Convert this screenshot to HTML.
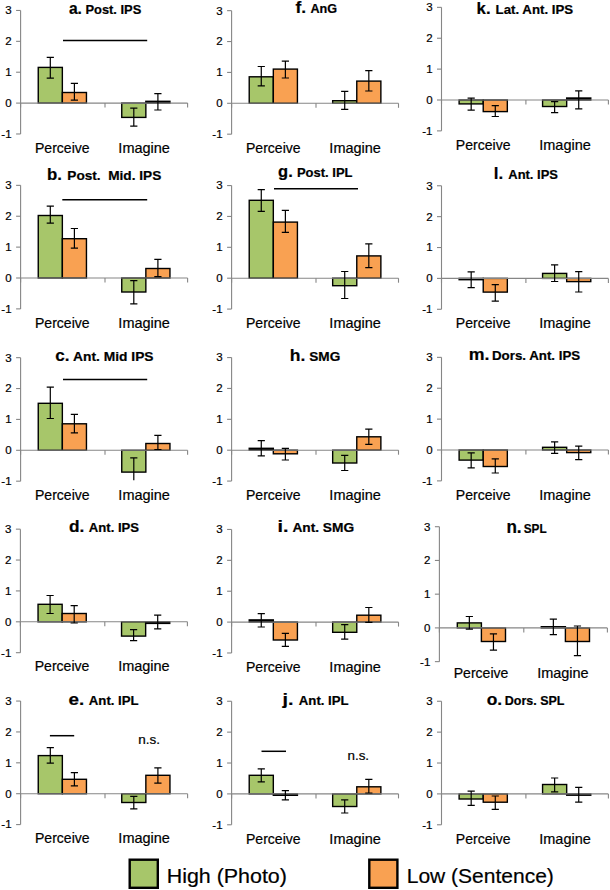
<!DOCTYPE html>
<html><head><meta charset="utf-8"><style>
html,body{margin:0;padding:0;background:#fff;width:610px;height:890px;overflow:hidden}
svg{display:block}
text{font-family:"Liberation Sans",sans-serif;fill:#000;stroke:#000;stroke-width:0.2px}
</style></head><body>
<svg width="610" height="890" viewBox="0 0 610 890">
<rect x="38.25" y="67.40" width="24.10" height="35.70" fill="#A7C66A" stroke="#000" stroke-width="1.4"/>
<rect x="62.35" y="92.50" width="24.10" height="10.60" fill="#F9A152" stroke="#000" stroke-width="1.4"/>
<rect x="121.75" y="103.10" width="24.10" height="14.30" fill="#A7C66A" stroke="#000" stroke-width="1.4"/>
<rect x="145.85" y="101.30" width="24.10" height="1.80" fill="#000" stroke="#000" stroke-width="1.4"/>
<rect x="38.25" y="215.50" width="24.10" height="62.50" fill="#A7C66A" stroke="#000" stroke-width="1.4"/>
<rect x="62.35" y="238.70" width="24.10" height="39.30" fill="#F9A152" stroke="#000" stroke-width="1.4"/>
<rect x="121.75" y="278.00" width="24.10" height="14.00" fill="#A7C66A" stroke="#000" stroke-width="1.4"/>
<rect x="145.85" y="268.50" width="24.10" height="9.50" fill="#F9A152" stroke="#000" stroke-width="1.4"/>
<rect x="38.25" y="403.30" width="24.10" height="47.00" fill="#A7C66A" stroke="#000" stroke-width="1.4"/>
<rect x="62.35" y="423.80" width="24.10" height="26.50" fill="#F9A152" stroke="#000" stroke-width="1.4"/>
<rect x="121.75" y="450.30" width="24.10" height="21.80" fill="#A7C66A" stroke="#000" stroke-width="1.4"/>
<rect x="145.85" y="443.50" width="24.10" height="6.80" fill="#F9A152" stroke="#000" stroke-width="1.4"/>
<rect x="38.05" y="604.30" width="24.10" height="17.50" fill="#A7C66A" stroke="#000" stroke-width="1.4"/>
<rect x="62.15" y="613.50" width="24.10" height="8.30" fill="#F9A152" stroke="#000" stroke-width="1.4"/>
<rect x="121.55" y="621.80" width="24.10" height="14.30" fill="#A7C66A" stroke="#000" stroke-width="1.4"/>
<rect x="145.65" y="621.80" width="24.10" height="1.60" fill="#000" stroke="#000" stroke-width="1.4"/>
<rect x="38.25" y="755.60" width="24.10" height="38.10" fill="#A7C66A" stroke="#000" stroke-width="1.4"/>
<rect x="62.35" y="779.30" width="24.10" height="14.40" fill="#F9A152" stroke="#000" stroke-width="1.4"/>
<rect x="121.75" y="793.70" width="24.10" height="8.80" fill="#A7C66A" stroke="#000" stroke-width="1.4"/>
<rect x="145.85" y="775.30" width="24.10" height="18.40" fill="#F9A152" stroke="#000" stroke-width="1.4"/>
<rect x="249.22" y="76.80" width="24.10" height="26.50" fill="#A7C66A" stroke="#000" stroke-width="1.4"/>
<rect x="273.32" y="69.10" width="24.10" height="34.20" fill="#F9A152" stroke="#000" stroke-width="1.4"/>
<rect x="332.67" y="100.70" width="24.10" height="2.60" fill="#A7C66A" stroke="#000" stroke-width="1.4"/>
<rect x="356.77" y="81.10" width="24.10" height="22.20" fill="#F9A152" stroke="#000" stroke-width="1.4"/>
<rect x="249.22" y="200.30" width="24.10" height="77.90" fill="#A7C66A" stroke="#000" stroke-width="1.4"/>
<rect x="273.32" y="222.10" width="24.10" height="56.10" fill="#F9A152" stroke="#000" stroke-width="1.4"/>
<rect x="332.67" y="278.20" width="24.10" height="7.50" fill="#A7C66A" stroke="#000" stroke-width="1.4"/>
<rect x="356.77" y="255.90" width="24.10" height="22.30" fill="#F9A152" stroke="#000" stroke-width="1.4"/>
<rect x="249.22" y="448.30" width="24.10" height="1.90" fill="#000" stroke="#000" stroke-width="1.4"/>
<rect x="273.32" y="450.20" width="24.10" height="3.60" fill="#F9A152" stroke="#000" stroke-width="1.4"/>
<rect x="332.67" y="450.20" width="24.10" height="12.80" fill="#A7C66A" stroke="#000" stroke-width="1.4"/>
<rect x="356.77" y="436.80" width="24.10" height="13.40" fill="#F9A152" stroke="#000" stroke-width="1.4"/>
<rect x="249.22" y="619.90" width="24.10" height="2.20" fill="#000" stroke="#000" stroke-width="1.4"/>
<rect x="273.32" y="622.10" width="24.10" height="17.90" fill="#F9A152" stroke="#000" stroke-width="1.4"/>
<rect x="332.67" y="622.10" width="24.10" height="10.20" fill="#A7C66A" stroke="#000" stroke-width="1.4"/>
<rect x="356.77" y="615.20" width="24.10" height="6.90" fill="#F9A152" stroke="#000" stroke-width="1.4"/>
<rect x="249.22" y="775.30" width="24.10" height="18.60" fill="#A7C66A" stroke="#000" stroke-width="1.4"/>
<rect x="273.32" y="793.90" width="24.10" height="1.40" fill="#000" stroke="#000" stroke-width="1.4"/>
<rect x="332.67" y="793.90" width="24.10" height="12.60" fill="#A7C66A" stroke="#000" stroke-width="1.4"/>
<rect x="356.77" y="786.80" width="24.10" height="7.10" fill="#F9A152" stroke="#000" stroke-width="1.4"/>
<rect x="459.12" y="100.00" width="24.10" height="3.90" fill="#A7C66A" stroke="#000" stroke-width="1.4"/>
<rect x="483.23" y="100.00" width="24.10" height="11.60" fill="#F9A152" stroke="#000" stroke-width="1.4"/>
<rect x="542.58" y="100.00" width="24.10" height="6.50" fill="#A7C66A" stroke="#000" stroke-width="1.4"/>
<rect x="566.68" y="98.00" width="24.10" height="2.00" fill="#000" stroke="#000" stroke-width="1.4"/>
<rect x="459.12" y="278.40" width="24.10" height="1.30" fill="#000" stroke="#000" stroke-width="1.4"/>
<rect x="483.23" y="278.40" width="24.10" height="13.70" fill="#F9A152" stroke="#000" stroke-width="1.4"/>
<rect x="542.58" y="273.40" width="24.10" height="5.00" fill="#A7C66A" stroke="#000" stroke-width="1.4"/>
<rect x="566.68" y="278.40" width="24.10" height="3.20" fill="#F9A152" stroke="#000" stroke-width="1.4"/>
<rect x="459.12" y="450.00" width="24.10" height="10.10" fill="#A7C66A" stroke="#000" stroke-width="1.4"/>
<rect x="483.23" y="450.00" width="24.10" height="16.50" fill="#F9A152" stroke="#000" stroke-width="1.4"/>
<rect x="542.58" y="447.30" width="24.10" height="2.70" fill="#A7C66A" stroke="#000" stroke-width="1.4"/>
<rect x="566.68" y="450.00" width="24.10" height="2.60" fill="#F9A152" stroke="#000" stroke-width="1.4"/>
<rect x="457.30" y="622.90" width="24.10" height="5.00" fill="#A7C66A" stroke="#000" stroke-width="1.4"/>
<rect x="481.40" y="627.90" width="24.10" height="13.60" fill="#F9A152" stroke="#000" stroke-width="1.4"/>
<rect x="541.30" y="626.70" width="24.10" height="1.20" fill="#000" stroke="#000" stroke-width="1.4"/>
<rect x="565.40" y="627.90" width="24.10" height="13.60" fill="#F9A152" stroke="#000" stroke-width="1.4"/>
<rect x="459.12" y="793.90" width="24.10" height="5.10" fill="#A7C66A" stroke="#000" stroke-width="1.4"/>
<rect x="483.23" y="793.90" width="24.10" height="8.30" fill="#F9A152" stroke="#000" stroke-width="1.4"/>
<rect x="542.58" y="784.50" width="24.10" height="9.40" fill="#A7C66A" stroke="#000" stroke-width="1.4"/>
<rect x="566.68" y="793.90" width="24.10" height="1.30" fill="#000" stroke="#000" stroke-width="1.4"/>
<path d="M20.60 10.46 V133.98" stroke="#868686" stroke-width="1.1" fill="none"/>
<path d="M16.10 133.98 H20.60" stroke="#868686" stroke-width="1.1"/>
<path d="M16.10 103.10 H20.60" stroke="#868686" stroke-width="1.1"/>
<path d="M16.10 72.22 H20.60" stroke="#868686" stroke-width="1.1"/>
<path d="M16.10 41.34 H20.60" stroke="#868686" stroke-width="1.1"/>
<path d="M16.10 10.46 H20.60" stroke="#868686" stroke-width="1.1"/>
<path d="M20.60 103.10 H187.60" stroke="#868686" stroke-width="1.1"/>
<path d="M20.60 103.10 V107.60" stroke="#868686" stroke-width="1.1"/>
<path d="M105.00 103.10 V107.60" stroke="#868686" stroke-width="1.1"/>
<path d="M187.60 103.10 V107.60" stroke="#868686" stroke-width="1.1"/>
<path d="M20.60 185.36 V308.88" stroke="#868686" stroke-width="1.1" fill="none"/>
<path d="M16.10 308.88 H20.60" stroke="#868686" stroke-width="1.1"/>
<path d="M16.10 278.00 H20.60" stroke="#868686" stroke-width="1.1"/>
<path d="M16.10 247.12 H20.60" stroke="#868686" stroke-width="1.1"/>
<path d="M16.10 216.24 H20.60" stroke="#868686" stroke-width="1.1"/>
<path d="M16.10 185.36 H20.60" stroke="#868686" stroke-width="1.1"/>
<path d="M20.60 278.00 H187.60" stroke="#868686" stroke-width="1.1"/>
<path d="M20.60 278.00 V282.50" stroke="#868686" stroke-width="1.1"/>
<path d="M105.00 278.00 V282.50" stroke="#868686" stroke-width="1.1"/>
<path d="M187.60 278.00 V282.50" stroke="#868686" stroke-width="1.1"/>
<path d="M20.60 357.66 V481.18" stroke="#868686" stroke-width="1.1" fill="none"/>
<path d="M16.10 481.18 H20.60" stroke="#868686" stroke-width="1.1"/>
<path d="M16.10 450.30 H20.60" stroke="#868686" stroke-width="1.1"/>
<path d="M16.10 419.42 H20.60" stroke="#868686" stroke-width="1.1"/>
<path d="M16.10 388.54 H20.60" stroke="#868686" stroke-width="1.1"/>
<path d="M16.10 357.66 H20.60" stroke="#868686" stroke-width="1.1"/>
<path d="M20.60 450.30 H187.60" stroke="#868686" stroke-width="1.1"/>
<path d="M20.60 450.30 V454.80" stroke="#868686" stroke-width="1.1"/>
<path d="M105.00 450.30 V454.80" stroke="#868686" stroke-width="1.1"/>
<path d="M187.60 450.30 V454.80" stroke="#868686" stroke-width="1.1"/>
<path d="M20.40 529.16 V652.68" stroke="#868686" stroke-width="1.1" fill="none"/>
<path d="M15.90 652.68 H20.40" stroke="#868686" stroke-width="1.1"/>
<path d="M15.90 621.80 H20.40" stroke="#868686" stroke-width="1.1"/>
<path d="M15.90 590.92 H20.40" stroke="#868686" stroke-width="1.1"/>
<path d="M15.90 560.04 H20.40" stroke="#868686" stroke-width="1.1"/>
<path d="M15.90 529.16 H20.40" stroke="#868686" stroke-width="1.1"/>
<path d="M20.40 621.80 H187.40" stroke="#868686" stroke-width="1.1"/>
<path d="M20.40 621.80 V626.30" stroke="#868686" stroke-width="1.1"/>
<path d="M104.80 621.80 V626.30" stroke="#868686" stroke-width="1.1"/>
<path d="M187.40 621.80 V626.30" stroke="#868686" stroke-width="1.1"/>
<path d="M20.60 701.06 V824.58" stroke="#868686" stroke-width="1.1" fill="none"/>
<path d="M16.10 824.58 H20.60" stroke="#868686" stroke-width="1.1"/>
<path d="M16.10 793.70 H20.60" stroke="#868686" stroke-width="1.1"/>
<path d="M16.10 762.82 H20.60" stroke="#868686" stroke-width="1.1"/>
<path d="M16.10 731.94 H20.60" stroke="#868686" stroke-width="1.1"/>
<path d="M16.10 701.06 H20.60" stroke="#868686" stroke-width="1.1"/>
<path d="M20.60 793.70 H187.60" stroke="#868686" stroke-width="1.1"/>
<path d="M20.60 793.70 V798.20" stroke="#868686" stroke-width="1.1"/>
<path d="M105.00 793.70 V798.20" stroke="#868686" stroke-width="1.1"/>
<path d="M187.60 793.70 V798.20" stroke="#868686" stroke-width="1.1"/>
<path d="M231.60 10.66 V134.18" stroke="#868686" stroke-width="1.1" fill="none"/>
<path d="M227.10 134.18 H231.60" stroke="#868686" stroke-width="1.1"/>
<path d="M227.10 103.30 H231.60" stroke="#868686" stroke-width="1.1"/>
<path d="M227.10 72.42 H231.60" stroke="#868686" stroke-width="1.1"/>
<path d="M227.10 41.54 H231.60" stroke="#868686" stroke-width="1.1"/>
<path d="M227.10 10.66 H231.60" stroke="#868686" stroke-width="1.1"/>
<path d="M231.60 103.30 H398.50" stroke="#868686" stroke-width="1.1"/>
<path d="M231.60 103.30 V107.80" stroke="#868686" stroke-width="1.1"/>
<path d="M316.00 103.30 V107.80" stroke="#868686" stroke-width="1.1"/>
<path d="M398.50 103.30 V107.80" stroke="#868686" stroke-width="1.1"/>
<path d="M231.60 185.56 V309.08" stroke="#868686" stroke-width="1.1" fill="none"/>
<path d="M227.10 309.08 H231.60" stroke="#868686" stroke-width="1.1"/>
<path d="M227.10 278.20 H231.60" stroke="#868686" stroke-width="1.1"/>
<path d="M227.10 247.32 H231.60" stroke="#868686" stroke-width="1.1"/>
<path d="M227.10 216.44 H231.60" stroke="#868686" stroke-width="1.1"/>
<path d="M227.10 185.56 H231.60" stroke="#868686" stroke-width="1.1"/>
<path d="M231.60 278.20 H398.50" stroke="#868686" stroke-width="1.1"/>
<path d="M231.60 278.20 V282.70" stroke="#868686" stroke-width="1.1"/>
<path d="M316.00 278.20 V282.70" stroke="#868686" stroke-width="1.1"/>
<path d="M398.50 278.20 V282.70" stroke="#868686" stroke-width="1.1"/>
<path d="M231.60 357.56 V481.08" stroke="#868686" stroke-width="1.1" fill="none"/>
<path d="M227.10 481.08 H231.60" stroke="#868686" stroke-width="1.1"/>
<path d="M227.10 450.20 H231.60" stroke="#868686" stroke-width="1.1"/>
<path d="M227.10 419.32 H231.60" stroke="#868686" stroke-width="1.1"/>
<path d="M227.10 388.44 H231.60" stroke="#868686" stroke-width="1.1"/>
<path d="M227.10 357.56 H231.60" stroke="#868686" stroke-width="1.1"/>
<path d="M231.60 450.20 H398.50" stroke="#868686" stroke-width="1.1"/>
<path d="M231.60 450.20 V454.70" stroke="#868686" stroke-width="1.1"/>
<path d="M316.00 450.20 V454.70" stroke="#868686" stroke-width="1.1"/>
<path d="M398.50 450.20 V454.70" stroke="#868686" stroke-width="1.1"/>
<path d="M231.60 529.46 V652.98" stroke="#868686" stroke-width="1.1" fill="none"/>
<path d="M227.10 652.98 H231.60" stroke="#868686" stroke-width="1.1"/>
<path d="M227.10 622.10 H231.60" stroke="#868686" stroke-width="1.1"/>
<path d="M227.10 591.22 H231.60" stroke="#868686" stroke-width="1.1"/>
<path d="M227.10 560.34 H231.60" stroke="#868686" stroke-width="1.1"/>
<path d="M227.10 529.46 H231.60" stroke="#868686" stroke-width="1.1"/>
<path d="M231.60 622.10 H398.50" stroke="#868686" stroke-width="1.1"/>
<path d="M231.60 622.10 V626.60" stroke="#868686" stroke-width="1.1"/>
<path d="M316.00 622.10 V626.60" stroke="#868686" stroke-width="1.1"/>
<path d="M398.50 622.10 V626.60" stroke="#868686" stroke-width="1.1"/>
<path d="M231.60 701.26 V824.78" stroke="#868686" stroke-width="1.1" fill="none"/>
<path d="M227.10 824.78 H231.60" stroke="#868686" stroke-width="1.1"/>
<path d="M227.10 793.90 H231.60" stroke="#868686" stroke-width="1.1"/>
<path d="M227.10 763.02 H231.60" stroke="#868686" stroke-width="1.1"/>
<path d="M227.10 732.14 H231.60" stroke="#868686" stroke-width="1.1"/>
<path d="M227.10 701.26 H231.60" stroke="#868686" stroke-width="1.1"/>
<path d="M231.60 793.90 H398.50" stroke="#868686" stroke-width="1.1"/>
<path d="M231.60 793.90 V798.40" stroke="#868686" stroke-width="1.1"/>
<path d="M316.00 793.90 V798.40" stroke="#868686" stroke-width="1.1"/>
<path d="M398.50 793.90 V798.40" stroke="#868686" stroke-width="1.1"/>
<path d="M441.50 7.36 V130.88" stroke="#868686" stroke-width="1.1" fill="none"/>
<path d="M437.00 130.88 H441.50" stroke="#868686" stroke-width="1.1"/>
<path d="M437.00 100.00 H441.50" stroke="#868686" stroke-width="1.1"/>
<path d="M437.00 69.12 H441.50" stroke="#868686" stroke-width="1.1"/>
<path d="M437.00 38.24 H441.50" stroke="#868686" stroke-width="1.1"/>
<path d="M437.00 7.36 H441.50" stroke="#868686" stroke-width="1.1"/>
<path d="M441.50 100.00 H608.40" stroke="#868686" stroke-width="1.1"/>
<path d="M441.50 100.00 V104.50" stroke="#868686" stroke-width="1.1"/>
<path d="M525.90 100.00 V104.50" stroke="#868686" stroke-width="1.1"/>
<path d="M608.40 100.00 V104.50" stroke="#868686" stroke-width="1.1"/>
<path d="M441.50 185.76 V309.28" stroke="#868686" stroke-width="1.1" fill="none"/>
<path d="M437.00 309.28 H441.50" stroke="#868686" stroke-width="1.1"/>
<path d="M437.00 278.40 H441.50" stroke="#868686" stroke-width="1.1"/>
<path d="M437.00 247.52 H441.50" stroke="#868686" stroke-width="1.1"/>
<path d="M437.00 216.64 H441.50" stroke="#868686" stroke-width="1.1"/>
<path d="M437.00 185.76 H441.50" stroke="#868686" stroke-width="1.1"/>
<path d="M441.50 278.40 H608.40" stroke="#868686" stroke-width="1.1"/>
<path d="M441.50 278.40 V282.90" stroke="#868686" stroke-width="1.1"/>
<path d="M525.90 278.40 V282.90" stroke="#868686" stroke-width="1.1"/>
<path d="M608.40 278.40 V282.90" stroke="#868686" stroke-width="1.1"/>
<path d="M441.50 357.36 V480.88" stroke="#868686" stroke-width="1.1" fill="none"/>
<path d="M437.00 480.88 H441.50" stroke="#868686" stroke-width="1.1"/>
<path d="M437.00 450.00 H441.50" stroke="#868686" stroke-width="1.1"/>
<path d="M437.00 419.12 H441.50" stroke="#868686" stroke-width="1.1"/>
<path d="M437.00 388.24 H441.50" stroke="#868686" stroke-width="1.1"/>
<path d="M437.00 357.36 H441.50" stroke="#868686" stroke-width="1.1"/>
<path d="M441.50 450.00 H608.40" stroke="#868686" stroke-width="1.1"/>
<path d="M441.50 450.00 V454.50" stroke="#868686" stroke-width="1.1"/>
<path d="M525.90 450.00 V454.50" stroke="#868686" stroke-width="1.1"/>
<path d="M608.40 450.00 V454.50" stroke="#868686" stroke-width="1.1"/>
<path d="M439.40 526.71 V661.63" stroke="#868686" stroke-width="1.1" fill="none"/>
<path d="M434.90 661.63 H439.40" stroke="#868686" stroke-width="1.1"/>
<path d="M434.90 627.90 H439.40" stroke="#868686" stroke-width="1.1"/>
<path d="M434.90 594.17 H439.40" stroke="#868686" stroke-width="1.1"/>
<path d="M434.90 560.44 H439.40" stroke="#868686" stroke-width="1.1"/>
<path d="M434.90 526.71 H439.40" stroke="#868686" stroke-width="1.1"/>
<path d="M439.40 627.90 H607.40" stroke="#868686" stroke-width="1.1"/>
<path d="M439.40 627.90 V632.40" stroke="#868686" stroke-width="1.1"/>
<path d="M523.80 627.90 V632.40" stroke="#868686" stroke-width="1.1"/>
<path d="M607.40 627.90 V632.40" stroke="#868686" stroke-width="1.1"/>
<path d="M441.50 701.26 V824.78" stroke="#868686" stroke-width="1.1" fill="none"/>
<path d="M437.00 824.78 H441.50" stroke="#868686" stroke-width="1.1"/>
<path d="M437.00 793.90 H441.50" stroke="#868686" stroke-width="1.1"/>
<path d="M437.00 763.02 H441.50" stroke="#868686" stroke-width="1.1"/>
<path d="M437.00 732.14 H441.50" stroke="#868686" stroke-width="1.1"/>
<path d="M437.00 701.26 H441.50" stroke="#868686" stroke-width="1.1"/>
<path d="M441.50 793.90 H608.40" stroke="#868686" stroke-width="1.1"/>
<path d="M441.50 793.90 V798.40" stroke="#868686" stroke-width="1.1"/>
<path d="M525.90 793.90 V798.40" stroke="#868686" stroke-width="1.1"/>
<path d="M608.40 793.90 V798.40" stroke="#868686" stroke-width="1.1"/>
<path d="M50.30 57.40 V78.20 M46.70 57.40 H53.90 M46.70 78.20 H53.90" stroke="#000" stroke-width="1.2" fill="none"/>
<path d="M74.40 83.40 V100.20 M70.80 83.40 H78.00 M70.80 100.20 H78.00" stroke="#000" stroke-width="1.2" fill="none"/>
<path d="M133.80 108.20 V126.20 M130.20 108.20 H137.40 M130.20 126.20 H137.40" stroke="#000" stroke-width="1.2" fill="none"/>
<path d="M157.90 93.60 V110.00 M154.30 93.60 H161.50 M154.30 110.00 H161.50" stroke="#000" stroke-width="1.2" fill="none"/>
<text x="1.30" y="137.88" font-size="11.5">-1</text>
<text x="5.30" y="107.00" font-size="11.5">0</text>
<text x="5.30" y="76.12" font-size="11.5">1</text>
<text x="5.30" y="45.24" font-size="11.5">2</text>
<text x="5.30" y="14.36" font-size="11.5">3</text>
<text xml:space="preserve" transform="translate(34.95 152.70) scale(1.0038 1)" font-weight="normal" font-size="14">Perceive</text>
<text xml:space="preserve" transform="translate(118.36 152.70) scale(1.0354 1)" font-weight="normal" font-size="14">Imagine</text>
<path d="M63.00 40.45 H147.20" stroke="#000" stroke-width="1.5"/>
<path d="M50.30 206.20 V223.20 M46.70 206.20 H53.90 M46.70 223.20 H53.90" stroke="#000" stroke-width="1.2" fill="none"/>
<path d="M74.40 228.50 V248.20 M70.80 228.50 H78.00 M70.80 248.20 H78.00" stroke="#000" stroke-width="1.2" fill="none"/>
<path d="M133.80 280.70 V303.90 M130.20 280.70 H137.40 M130.20 303.90 H137.40" stroke="#000" stroke-width="1.2" fill="none"/>
<path d="M157.90 259.30 V276.60 M154.30 259.30 H161.50 M154.30 276.60 H161.50" stroke="#000" stroke-width="1.2" fill="none"/>
<text x="1.30" y="312.78" font-size="11.5">-1</text>
<text x="5.30" y="281.90" font-size="11.5">0</text>
<text x="5.30" y="251.02" font-size="11.5">1</text>
<text x="5.30" y="220.14" font-size="11.5">2</text>
<text x="5.30" y="189.26" font-size="11.5">3</text>
<text xml:space="preserve" transform="translate(34.95 327.60) scale(1.0038 1)" font-weight="normal" font-size="14">Perceive</text>
<text xml:space="preserve" transform="translate(118.36 327.60) scale(1.0354 1)" font-weight="normal" font-size="14">Imagine</text>
<path d="M62.30 199.80 H147.20" stroke="#000" stroke-width="1.5"/>
<path d="M50.30 387.20 V418.50 M46.70 387.20 H53.90 M46.70 418.50 H53.90" stroke="#000" stroke-width="1.2" fill="none"/>
<path d="M74.40 414.30 V432.90 M70.80 414.30 H78.00 M70.80 432.90 H78.00" stroke="#000" stroke-width="1.2" fill="none"/>
<path d="M133.80 457.80 V480.20 M130.20 457.80 H137.40" stroke="#000" stroke-width="1.2" fill="none"/>
<path d="M157.90 435.30 V449.50 M154.30 435.30 H161.50 M154.30 449.50 H161.50" stroke="#000" stroke-width="1.2" fill="none"/>
<text x="1.30" y="485.08" font-size="11.5">-1</text>
<text x="5.30" y="454.20" font-size="11.5">0</text>
<text x="5.30" y="423.32" font-size="11.5">1</text>
<text x="5.30" y="392.44" font-size="11.5">2</text>
<text x="5.30" y="361.56" font-size="11.5">3</text>
<text xml:space="preserve" transform="translate(34.95 499.90) scale(1.0038 1)" font-weight="normal" font-size="14">Perceive</text>
<text xml:space="preserve" transform="translate(118.36 499.90) scale(1.0354 1)" font-weight="normal" font-size="14">Imagine</text>
<path d="M63.00 379.50 H147.20" stroke="#000" stroke-width="1.5"/>
<path d="M50.10 595.50 V613.50 M46.50 595.50 H53.70 M46.50 613.50 H53.70" stroke="#000" stroke-width="1.2" fill="none"/>
<path d="M74.20 605.70 V623.00 M70.60 605.70 H77.80 M70.60 623.00 H77.80" stroke="#000" stroke-width="1.2" fill="none"/>
<path d="M133.60 629.60 V640.70 M130.00 629.60 H137.20 M130.00 640.70 H137.20" stroke="#000" stroke-width="1.2" fill="none"/>
<path d="M157.70 615.20 V628.90 M154.10 615.20 H161.30 M154.10 628.90 H161.30" stroke="#000" stroke-width="1.2" fill="none"/>
<text x="1.10" y="656.58" font-size="11.5">-1</text>
<text x="5.10" y="625.70" font-size="11.5">0</text>
<text x="5.10" y="594.82" font-size="11.5">1</text>
<text x="5.10" y="563.94" font-size="11.5">2</text>
<text x="5.10" y="533.06" font-size="11.5">3</text>
<text xml:space="preserve" transform="translate(34.75 671.40) scale(1.0038 1)" font-weight="normal" font-size="14">Perceive</text>
<text xml:space="preserve" transform="translate(118.16 671.40) scale(1.0354 1)" font-weight="normal" font-size="14">Imagine</text>
<path d="M50.30 747.70 V763.20 M46.70 747.70 H53.90 M46.70 763.20 H53.90" stroke="#000" stroke-width="1.2" fill="none"/>
<path d="M74.40 772.70 V785.80 M70.80 772.70 H78.00 M70.80 785.80 H78.00" stroke="#000" stroke-width="1.2" fill="none"/>
<path d="M133.80 796.30 V808.80 M130.20 796.30 H137.40 M130.20 808.80 H137.40" stroke="#000" stroke-width="1.2" fill="none"/>
<path d="M157.90 767.80 V783.20 M154.30 767.80 H161.50 M154.30 783.20 H161.50" stroke="#000" stroke-width="1.2" fill="none"/>
<text x="1.30" y="828.48" font-size="11.5">-1</text>
<text x="5.30" y="797.60" font-size="11.5">0</text>
<text x="5.30" y="766.72" font-size="11.5">1</text>
<text x="5.30" y="735.84" font-size="11.5">2</text>
<text x="5.30" y="704.96" font-size="11.5">3</text>
<text xml:space="preserve" transform="translate(34.95 843.30) scale(1.0038 1)" font-weight="normal" font-size="14">Perceive</text>
<text xml:space="preserve" transform="translate(118.36 843.30) scale(1.0354 1)" font-weight="normal" font-size="14">Imagine</text>
<path d="M49.90 735.70 H74.20" stroke="#000" stroke-width="1.5"/>
<path d="M261.27 66.50 V85.80 M257.67 66.50 H264.88 M257.67 85.80 H264.88" stroke="#000" stroke-width="1.2" fill="none"/>
<path d="M285.38 61.10 V78.00 M281.77 61.10 H288.98 M281.77 78.00 H288.98" stroke="#000" stroke-width="1.2" fill="none"/>
<path d="M344.72 91.30 V109.40 M341.12 91.30 H348.32 M341.12 109.40 H348.32" stroke="#000" stroke-width="1.2" fill="none"/>
<path d="M368.82 70.70 V91.00 M365.22 70.70 H372.43 M365.22 91.00 H372.43" stroke="#000" stroke-width="1.2" fill="none"/>
<text x="212.30" y="138.08" font-size="11.5">-1</text>
<text x="216.30" y="107.20" font-size="11.5">0</text>
<text x="216.30" y="76.32" font-size="11.5">1</text>
<text x="216.30" y="45.44" font-size="11.5">2</text>
<text x="216.30" y="14.56" font-size="11.5">3</text>
<text xml:space="preserve" transform="translate(245.95 152.90) scale(1.0038 1)" font-weight="normal" font-size="14">Perceive</text>
<text xml:space="preserve" transform="translate(329.36 152.90) scale(1.0354 1)" font-weight="normal" font-size="14">Imagine</text>
<path d="M261.27 189.60 V211.30 M257.67 189.60 H264.88 M257.67 211.30 H264.88" stroke="#000" stroke-width="1.2" fill="none"/>
<path d="M285.38 210.30 V232.30 M281.77 210.30 H288.98 M281.77 232.30 H288.98" stroke="#000" stroke-width="1.2" fill="none"/>
<path d="M344.72 271.50 V298.50 M341.12 271.50 H348.32 M341.12 298.50 H348.32" stroke="#000" stroke-width="1.2" fill="none"/>
<path d="M368.82 243.80 V267.70 M365.22 243.80 H372.43 M365.22 267.70 H372.43" stroke="#000" stroke-width="1.2" fill="none"/>
<text x="212.30" y="312.98" font-size="11.5">-1</text>
<text x="216.30" y="282.10" font-size="11.5">0</text>
<text x="216.30" y="251.22" font-size="11.5">1</text>
<text x="216.30" y="220.34" font-size="11.5">2</text>
<text x="216.30" y="189.46" font-size="11.5">3</text>
<text xml:space="preserve" transform="translate(245.95 327.80) scale(1.0038 1)" font-weight="normal" font-size="14">Perceive</text>
<text xml:space="preserve" transform="translate(329.36 327.80) scale(1.0354 1)" font-weight="normal" font-size="14">Imagine</text>
<path d="M274.00 188.80 H358.00" stroke="#000" stroke-width="1.5"/>
<path d="M261.27 440.60 V455.90 M257.67 440.60 H264.88 M257.67 455.90 H264.88" stroke="#000" stroke-width="1.2" fill="none"/>
<path d="M285.38 448.40 V460.00 M281.77 448.40 H288.98 M281.77 460.00 H288.98" stroke="#000" stroke-width="1.2" fill="none"/>
<path d="M344.72 455.30 V470.50 M341.12 455.30 H348.32 M341.12 470.50 H348.32" stroke="#000" stroke-width="1.2" fill="none"/>
<path d="M368.82 429.10 V444.40 M365.22 429.10 H372.43 M365.22 444.40 H372.43" stroke="#000" stroke-width="1.2" fill="none"/>
<text x="212.30" y="484.98" font-size="11.5">-1</text>
<text x="216.30" y="454.10" font-size="11.5">0</text>
<text x="216.30" y="423.22" font-size="11.5">1</text>
<text x="216.30" y="392.34" font-size="11.5">2</text>
<text x="216.30" y="361.46" font-size="11.5">3</text>
<text xml:space="preserve" transform="translate(245.95 499.80) scale(1.0038 1)" font-weight="normal" font-size="14">Perceive</text>
<text xml:space="preserve" transform="translate(329.36 499.80) scale(1.0354 1)" font-weight="normal" font-size="14">Imagine</text>
<path d="M261.27 613.70 V627.00 M257.67 613.70 H264.88 M257.67 627.00 H264.88" stroke="#000" stroke-width="1.2" fill="none"/>
<path d="M285.38 633.30 V646.40 M281.77 633.30 H288.98 M281.77 646.40 H288.98" stroke="#000" stroke-width="1.2" fill="none"/>
<path d="M344.72 624.70 V639.20 M341.12 624.70 H348.32 M341.12 639.20 H348.32" stroke="#000" stroke-width="1.2" fill="none"/>
<path d="M368.82 607.50 V622.40 M365.22 607.50 H372.43 M365.22 622.40 H372.43" stroke="#000" stroke-width="1.2" fill="none"/>
<text x="212.30" y="656.88" font-size="11.5">-1</text>
<text x="216.30" y="626.00" font-size="11.5">0</text>
<text x="216.30" y="595.12" font-size="11.5">1</text>
<text x="216.30" y="564.24" font-size="11.5">2</text>
<text x="216.30" y="533.36" font-size="11.5">3</text>
<text xml:space="preserve" transform="translate(245.95 671.70) scale(1.0038 1)" font-weight="normal" font-size="14">Perceive</text>
<text xml:space="preserve" transform="translate(329.36 671.70) scale(1.0354 1)" font-weight="normal" font-size="14">Imagine</text>
<path d="M261.27 768.80 V781.90 M257.67 768.80 H264.88 M257.67 781.90 H264.88" stroke="#000" stroke-width="1.2" fill="none"/>
<path d="M285.38 790.70 V799.90 M281.77 790.70 H288.98 M281.77 799.90 H288.98" stroke="#000" stroke-width="1.2" fill="none"/>
<path d="M344.72 799.90 V813.00 M341.12 799.90 H348.32 M341.12 813.00 H348.32" stroke="#000" stroke-width="1.2" fill="none"/>
<path d="M368.82 779.30 V793.00 M365.22 779.30 H372.43 M365.22 793.00 H372.43" stroke="#000" stroke-width="1.2" fill="none"/>
<text x="212.30" y="828.68" font-size="11.5">-1</text>
<text x="216.30" y="797.80" font-size="11.5">0</text>
<text x="216.30" y="766.92" font-size="11.5">1</text>
<text x="216.30" y="736.04" font-size="11.5">2</text>
<text x="216.30" y="705.16" font-size="11.5">3</text>
<text xml:space="preserve" transform="translate(245.95 843.50) scale(1.0038 1)" font-weight="normal" font-size="14">Perceive</text>
<text xml:space="preserve" transform="translate(329.36 843.50) scale(1.0354 1)" font-weight="normal" font-size="14">Imagine</text>
<path d="M261.50 751.30 H286.00" stroke="#000" stroke-width="1.5"/>
<path d="M471.18 98.10 V110.10 M467.57 98.10 H474.78 M467.57 110.10 H474.78" stroke="#000" stroke-width="1.2" fill="none"/>
<path d="M495.28 105.70 V116.50 M491.68 105.70 H498.88 M491.68 116.50 H498.88" stroke="#000" stroke-width="1.2" fill="none"/>
<path d="M554.63 101.60 V112.70 M551.03 101.60 H558.23 M551.03 112.70 H558.23" stroke="#000" stroke-width="1.2" fill="none"/>
<path d="M578.73 90.90 V108.90 M575.13 90.90 H582.33 M575.13 108.90 H582.33" stroke="#000" stroke-width="1.2" fill="none"/>
<text x="422.20" y="134.78" font-size="11.5">-1</text>
<text x="426.20" y="103.90" font-size="11.5">0</text>
<text x="426.20" y="73.02" font-size="11.5">1</text>
<text x="426.20" y="42.14" font-size="11.5">2</text>
<text x="426.20" y="11.26" font-size="11.5">3</text>
<text xml:space="preserve" transform="translate(455.85 149.60) scale(1.0038 1)" font-weight="normal" font-size="14">Perceive</text>
<text xml:space="preserve" transform="translate(539.26 149.60) scale(1.0354 1)" font-weight="normal" font-size="14">Imagine</text>
<path d="M471.18 271.80 V287.60 M467.57 271.80 H474.78 M467.57 287.60 H474.78" stroke="#000" stroke-width="1.2" fill="none"/>
<path d="M495.28 284.60 V301.10 M491.68 284.60 H498.88 M491.68 301.10 H498.88" stroke="#000" stroke-width="1.2" fill="none"/>
<path d="M554.63 264.90 V281.50 M551.03 264.90 H558.23 M551.03 281.50 H558.23" stroke="#000" stroke-width="1.2" fill="none"/>
<path d="M578.73 271.60 V292.00 M575.13 271.60 H582.33 M575.13 292.00 H582.33" stroke="#000" stroke-width="1.2" fill="none"/>
<text x="422.20" y="313.18" font-size="11.5">-1</text>
<text x="426.20" y="282.30" font-size="11.5">0</text>
<text x="426.20" y="251.42" font-size="11.5">1</text>
<text x="426.20" y="220.54" font-size="11.5">2</text>
<text x="426.20" y="189.66" font-size="11.5">3</text>
<text xml:space="preserve" transform="translate(455.85 328.00) scale(1.0038 1)" font-weight="normal" font-size="14">Perceive</text>
<text xml:space="preserve" transform="translate(539.26 328.00) scale(1.0354 1)" font-weight="normal" font-size="14">Imagine</text>
<path d="M471.18 452.80 V467.80 M467.57 452.80 H474.78 M467.57 467.80 H474.78" stroke="#000" stroke-width="1.2" fill="none"/>
<path d="M495.28 458.90 V473.00 M491.68 458.90 H498.88 M491.68 473.00 H498.88" stroke="#000" stroke-width="1.2" fill="none"/>
<path d="M554.63 441.80 V453.40 M551.03 441.80 H558.23 M551.03 453.40 H558.23" stroke="#000" stroke-width="1.2" fill="none"/>
<path d="M578.73 446.10 V459.60 M575.13 446.10 H582.33 M575.13 459.60 H582.33" stroke="#000" stroke-width="1.2" fill="none"/>
<text x="422.20" y="484.78" font-size="11.5">-1</text>
<text x="426.20" y="453.90" font-size="11.5">0</text>
<text x="426.20" y="423.02" font-size="11.5">1</text>
<text x="426.20" y="392.14" font-size="11.5">2</text>
<text x="426.20" y="361.26" font-size="11.5">3</text>
<text xml:space="preserve" transform="translate(455.85 499.60) scale(1.0038 1)" font-weight="normal" font-size="14">Perceive</text>
<text xml:space="preserve" transform="translate(539.26 499.60) scale(1.0354 1)" font-weight="normal" font-size="14">Imagine</text>
<path d="M469.35 616.50 V629.20 M465.75 616.50 H472.95 M465.75 629.20 H472.95" stroke="#000" stroke-width="1.2" fill="none"/>
<path d="M493.45 633.80 V650.10 M489.85 633.80 H497.05 M489.85 650.10 H497.05" stroke="#000" stroke-width="1.2" fill="none"/>
<path d="M553.35 619.10 V634.60 M549.75 619.10 H556.95 M549.75 634.60 H556.95" stroke="#000" stroke-width="1.2" fill="none"/>
<path d="M577.45 626.00 V655.70 M573.85 626.00 H581.05 M573.85 655.70 H581.05" stroke="#000" stroke-width="1.2" fill="none"/>
<text x="420.10" y="665.53" font-size="11.5">-1</text>
<text x="424.10" y="631.80" font-size="11.5">0</text>
<text x="424.10" y="598.07" font-size="11.5">1</text>
<text x="424.10" y="564.34" font-size="11.5">2</text>
<text x="424.10" y="530.61" font-size="11.5">3</text>
<text xml:space="preserve" transform="translate(453.75 677.50) scale(1.0038 1)" font-weight="normal" font-size="14">Perceive</text>
<text xml:space="preserve" transform="translate(537.16 677.50) scale(1.0354 1)" font-weight="normal" font-size="14">Imagine</text>
<path d="M471.18 791.20 V805.40 M467.57 791.20 H474.78 M467.57 805.40 H474.78" stroke="#000" stroke-width="1.2" fill="none"/>
<path d="M495.28 796.00 V809.30 M491.68 796.00 H498.88 M491.68 809.30 H498.88" stroke="#000" stroke-width="1.2" fill="none"/>
<path d="M554.63 778.00 V791.80 M551.03 778.00 H558.23 M551.03 791.80 H558.23" stroke="#000" stroke-width="1.2" fill="none"/>
<path d="M578.73 787.30 V802.20 M575.13 787.30 H582.33 M575.13 802.20 H582.33" stroke="#000" stroke-width="1.2" fill="none"/>
<text x="422.20" y="828.68" font-size="11.5">-1</text>
<text x="426.20" y="797.80" font-size="11.5">0</text>
<text x="426.20" y="766.92" font-size="11.5">1</text>
<text x="426.20" y="736.04" font-size="11.5">2</text>
<text x="426.20" y="705.16" font-size="11.5">3</text>
<text xml:space="preserve" transform="translate(455.85 843.50) scale(1.0038 1)" font-weight="normal" font-size="14">Perceive</text>
<text xml:space="preserve" transform="translate(539.26 843.50) scale(1.0354 1)" font-weight="normal" font-size="14">Imagine</text>
<text xml:space="preserve" transform="translate(68.90 13.90) scale(0.9462 1)" font-weight="bold" font-size="16.5">a.</text>
<text xml:space="preserve" transform="translate(85.45 13.90) scale(1.0481 1)" font-weight="bold" font-size="12.3">Post. IPS</text>
<text xml:space="preserve" transform="translate(47.08 179.60) scale(1.0154 1)" font-weight="bold" font-size="16.5">b.</text>
<text xml:space="preserve" transform="translate(67.29 179.60) scale(1.1096 1)" font-weight="bold" font-size="12.3">Post.  Mid. IPS</text>
<text xml:space="preserve" transform="translate(55.17 360.70) scale(1.0333 1)" font-weight="bold" font-size="16.5">c.</text>
<text xml:space="preserve" transform="translate(73.10 360.70) scale(1.1225 1)" font-weight="bold" font-size="12.3">Ant. Mid IPS</text>
<text xml:space="preserve" transform="translate(68.95 532.10) scale(1.0462 1)" font-weight="bold" font-size="16.5">d.</text>
<text xml:space="preserve" transform="translate(88.80 532.10) scale(1.0660 1)" font-weight="bold" font-size="12.3">Ant. IPS</text>
<text xml:space="preserve" transform="translate(68.46 704.50) scale(1.1417 1)" font-weight="bold" font-size="16.5">e.</text>
<text xml:space="preserve" transform="translate(88.80 704.50) scale(1.0739 1)" font-weight="bold" font-size="12.3">Ant. IPL</text>
<text xml:space="preserve" transform="translate(295.50 13.20) scale(1.0556 1)" font-weight="bold" font-size="16.5">f.</text>
<text xml:space="preserve" transform="translate(310.40 13.20) scale(1.0269 1)" font-weight="bold" font-size="12.3">AnG</text>
<text xml:space="preserve" transform="translate(278.10 177.40) scale(1.0000 1)" font-weight="bold" font-size="16.5">g.</text>
<text xml:space="preserve" transform="translate(296.94 177.40) scale(1.0569 1)" font-weight="bold" font-size="12.3">Post. IPL</text>
<text xml:space="preserve" transform="translate(289.84 360.70) scale(1.0615 1)" font-weight="bold" font-size="16.5">h.</text>
<text xml:space="preserve" transform="translate(309.29 360.70) scale(1.1074 1)" font-weight="bold" font-size="12.3">SMG</text>
<text xml:space="preserve" transform="translate(277.40 532.40) scale(1.2000 1)" font-weight="bold" font-size="16.5">i.</text>
<text xml:space="preserve" transform="translate(292.40 532.40) scale(1.1164 1)" font-weight="bold" font-size="12.3">Ant. SMG</text>
<text xml:space="preserve" transform="translate(282.50 704.50) scale(1.2000 1)" font-weight="bold" font-size="16.5">j.</text>
<text xml:space="preserve" transform="translate(298.80 704.50) scale(1.0739 1)" font-weight="bold" font-size="12.3">Ant. IPL</text>
<text xml:space="preserve" transform="translate(476.58 13.50) scale(1.0167 1)" font-weight="bold" font-size="16.5">k.</text>
<text xml:space="preserve" transform="translate(495.62 13.50) scale(1.0775 1)" font-weight="bold" font-size="12.3">Lat. Ant. IPS</text>
<text xml:space="preserve" transform="translate(493.77 179.40) scale(1.0286 1)" font-weight="bold" font-size="16.5">l.</text>
<text xml:space="preserve" transform="translate(508.30 179.40) scale(1.0532 1)" font-weight="bold" font-size="12.3">Ant. IPS</text>
<text xml:space="preserve" transform="translate(468.82 360.30) scale(1.0765 1)" font-weight="bold" font-size="16.5">m.</text>
<text xml:space="preserve" transform="translate(492.02 360.30) scale(1.0825 1)" font-weight="bold" font-size="12.3">Dors. Ant. IPS</text>
<text xml:space="preserve" transform="translate(506.42 532.80) scale(0.9786 1)" font-weight="bold" font-size="17.5">n.</text>
<text xml:space="preserve" transform="translate(523.71 532.80) scale(0.8917 1)" font-weight="bold" font-size="13.2">SPL</text>
<text xml:space="preserve" transform="translate(486.65 704.50) scale(1.0538 1)" font-weight="bold" font-size="16.5">o.</text>
<text xml:space="preserve" transform="translate(504.78 704.50) scale(1.0172 1)" font-weight="bold" font-size="12.3">Dors. SPL</text>
<text xml:space="preserve" transform="translate(138.18 743.90) scale(1.1235 1)" font-weight="normal" font-size="12">n.s.</text>
<text xml:space="preserve" transform="translate(347.48 759.60) scale(1.1176 1)" font-weight="normal" font-size="12">n.s.</text>
<text xml:space="preserve" transform="translate(166.66 882.50) scale(1.0716 1)" font-weight="normal" font-size="20">High (Photo)</text>
<text xml:space="preserve" transform="translate(406.70 882.50) scale(1.0511 1)" font-weight="normal" font-size="20">Low (Sentence)</text>
<rect x="129.7" y="859.7" width="28.1" height="28.1" fill="#A7C66A" stroke="#000" stroke-width="2.4"/>
<rect x="369.3" y="859.7" width="28.1" height="28.1" fill="#F9A152" stroke="#000" stroke-width="2.4"/>
</svg>
</body></html>
